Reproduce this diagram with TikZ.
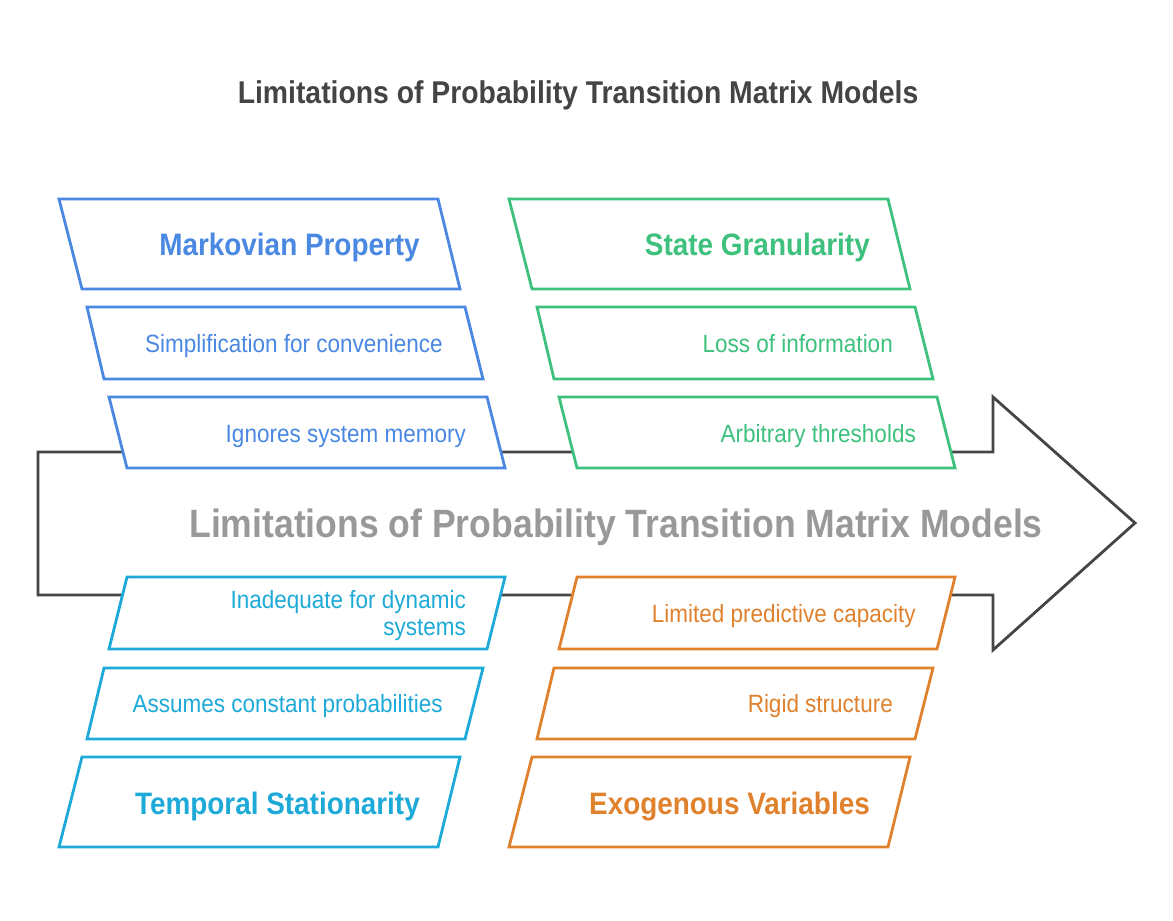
\documentclass[tikz,border=0pt]{standalone}
\usepackage{fontspec}
\setmainfont{Liberation Sans}[FakeStretch=0.9]
\definecolor{cblue}{HTML}{4A88E2}
\definecolor{cgreen}{HTML}{3DC17D}
\definecolor{ccyan}{HTML}{1EAAD8}
\definecolor{corange}{HTML}{E0822D}
\definecolor{cline}{HTML}{454545}
\definecolor{ctitle}{HTML}{444444}
\definecolor{cgray}{HTML}{999999}
\tikzset{
  pbox/.style={draw=#1, line width=2.8pt, fill=white, line join=miter},
  itemtext/.style={text=#1, inner sep=0pt, font=\fontsize{25}{27}\selectfont, anchor=base east},
  headtext/.style={text=#1, inner sep=0pt, font=\fontsize{31}{33}\selectfont\bfseries, anchor=base east},
}
\begin{document}
\begin{tikzpicture}[x=1pt,y=-1pt]
\useasboundingbox (0,0) rectangle (1173,921);
% title
\node[text=ctitle, font=\fontsize{31.5}{33}\selectfont\bfseries, inner sep=0pt, anchor=base] (title) at (578,103) {Limitations of Probability Transition Matrix Models};
% big arrow outline
\draw[cline, line width=2.8pt, line join=miter] (38,452) -- (993,452) -- (993,397) -- (1135,523) -- (993,650) -- (993,595) -- (38,595) -- cycle;
\node[text=cgray, font=\fontsize{39.5}{42}\selectfont\bfseries, inner sep=0pt, anchor=base] (center) at (616,537) {Limitations of Probability Transition Matrix Models};
% blue boxes
\draw[pbox=cblue] (59,199) -- (438,199) -- (460,289) -- (82,289) -- cycle;
\draw[pbox=cblue] (87,307) -- (465,307) -- (483,379) -- (104,379) -- cycle;
\draw[pbox=cblue] (109,397) -- (487,397) -- (505,468) -- (127,468) -- cycle;
% green boxes
\draw[pbox=cgreen] (509,199) -- (888,199) -- (910,289) -- (532,289) -- cycle;
\draw[pbox=cgreen] (537,307) -- (915,307) -- (933,379) -- (554,379) -- cycle;
\draw[pbox=cgreen] (559,397) -- (937,397) -- (955,468) -- (577,468) -- cycle;
% cyan boxes
\draw[pbox=ccyan] (127,577) -- (505,577) -- (487,649) -- (109,649) -- cycle;
\draw[pbox=ccyan] (104,668) -- (483,668) -- (465,739) -- (87,739) -- cycle;
\draw[pbox=ccyan] (82,757) -- (460,757) -- (438,847) -- (59,847) -- cycle;
% orange boxes
\draw[pbox=corange] (577,577) -- (955,577) -- (937,649) -- (559,649) -- cycle;
\draw[pbox=corange] (554,668) -- (933,668) -- (915,739) -- (537,739) -- cycle;
\draw[pbox=corange] (532,757) -- (910,757) -- (888,847) -- (509,847) -- cycle;
% texts
\node[headtext=cblue] (h1) at (420,255) {Markovian Property};
\node[itemtext=cblue] (b1) at (443,352) {Simplification for convenience};
\node[itemtext=cblue] (b2) at (466,442) {Ignores system memory};
\node[headtext=cgreen] (h2) at (870,255) {State Granularity};
\node[itemtext=cgreen] (g1) at (893,352) {Loss of information};
\node[itemtext=cgreen] (g2) at (916,442) {Arbitrary thresholds};
\node[text=ccyan, inner sep=0pt, font=\fontsize{25}{27}\selectfont, align=right, anchor=east] (c1) at (466,616) {Inadequate for dynamic\\systems};
\node[itemtext=ccyan] (c2) at (443,712) {Assumes constant probabilities};
\node[headtext=ccyan] (h3) at (420,814) {Temporal Stationarity};
\node[itemtext=corange] (o1) at (916,622) {Limited predictive capacity};
\node[itemtext=corange] (o2) at (893,712) {Rigid structure};
\node[headtext=corange] (h4) at (870,814) {Exogenous Variables};
\end{tikzpicture}
\end{document}
